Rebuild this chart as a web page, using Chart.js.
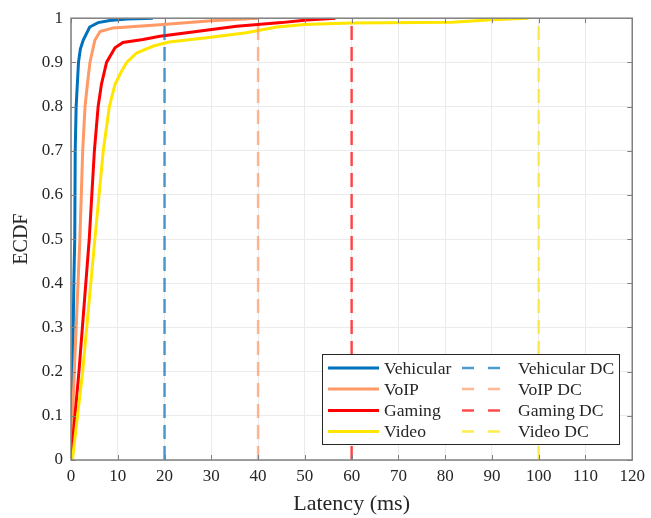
<!DOCTYPE html>
<html><head><meta charset="utf-8">
<script src="https://cdn.jsdelivr.net/npm/chart.js@4.4.1/dist/chart.umd.min.js"></script>
<style>html,body{margin:0;padding:0;background:#fff;}canvas{display:block;}</style>
</head><body>
<canvas id="c" width="651" height="518"></canvas>
<script>
// ---- data ----
const seriesNames = ['Vehicular', 'VoIP', 'Gaming', 'Video'];
const vehicularX = [0, 0.2, 0.35, 0.6, 0.8, 0.9, 1.1, 1.6, 2.0, 2.6, 4.0, 5.8, 8.3, 12, 17.5];
const vehicularY = [0, 0.1, 0.2, 0.4, 0.5, 0.7, 0.8, 0.9, 0.93, 0.95, 0.98, 0.99, 0.995, 0.998, 1];
const voipX = [0, 0.7, 1.3, 1.9, 2.5, 3.0, 3.5, 4.05, 5.1, 6.2, 9, 19, 30, 40];
const voipY = [0, 0.2, 0.35, 0.5, 0.7, 0.8, 0.85, 0.9, 0.95, 0.97, 0.978, 0.985, 0.994, 1];
const gamingX = [0, 1.7, 3.9, 5.0, 5.8, 6.5, 7.6, 9.4, 11.1, 15.4, 19, 26, 35.4, 38, 45, 50.4, 56.5];
const gamingY = [0, 0.2, 0.5, 0.7, 0.8, 0.85, 0.9, 0.933, 0.945, 0.952, 0.959, 0.969, 0.982, 0.984, 0.99, 0.996, 1];
const videoX = [0.3, 2.5, 5.1, 6.9, 8.2, 9.4, 10.8, 11.9, 14, 17.6, 21, 29, 37.5, 44, 50, 59.8, 81.5, 90, 97.8];
const videoY = [0, 0.2, 0.5, 0.7, 0.8, 0.85, 0.88, 0.9, 0.921, 0.937, 0.946, 0.956, 0.967, 0.98, 0.986, 0.989, 0.991, 0.9965, 1];
const dcNames = ['Vehicular DC', 'VoIP DC', 'Gaming DC', 'Video DC'];
const dcLatency = [20, 40, 60, 100];
const xTickLabels = ['0','10','20','30','40','50','60','70','80','90','100','110','120'];
const yTickLabels = ['0','0.1','0.2','0.3','0.4','0.5','0.6','0.7','0.8','0.9','1'];

// ---- styles ----
const solidColors = ['#0072BD', '#FF9966', '#FF0000', '#FFE600'];
const dashColors = ['rgba(0,114,189,0.7)', 'rgba(255,153,102,0.7)', 'rgba(255,0,0,0.7)', 'rgba(255,230,0,0.7)'];
const FONT = "'Liberation Serif', 'Times New Roman', serif";
const TXT = '#262626';

const pts = (xs, ys) => xs.map((x, i) => ({x: x, y: ys[i]}));
const solidXs = [vehicularX, voipX, gamingX, videoX];
const solidYs = [vehicularY, voipY, gamingY, videoY];

const datasets = [];
seriesNames.forEach((n, i) => datasets.push({
  label: n, data: pts(solidXs[i], solidYs[i]), borderColor: solidColors[i],
  borderWidth: 3, pointRadius: 0, showLine: true, fill: false, tension: 0,
  order: 10 - i
}));
dcNames.forEach((n, i) => datasets.push({
  label: n, data: [{x: dcLatency[i], y: 0}, {x: dcLatency[i], y: 1}], borderColor: dashColors[i],
  borderWidth: 2.5, borderDash: [14, 7], pointRadius: 0, showLine: true, fill: false,
  order: 5 - i
}));

const framePlugin = {
  id: 'frame',
  afterDraw(chart) {
    const {ctx, chartArea: a, scales: {x, y}} = chart;
    ctx.save();
    // inward ticks
    ctx.strokeStyle = '#808080';
    ctx.lineWidth = 1;
    ctx.beginPath();
    for (let v = 0; v <= 120; v += 10) {
      const px = Math.round(x.getPixelForValue(v)) + 0.5;
      ctx.moveTo(px, a.bottom); ctx.lineTo(px, a.bottom - 5);
      ctx.moveTo(px, a.top); ctx.lineTo(px, a.top + 5);
    }
    for (let k = 0; k <= 10; k++) {
      const py = Math.round(y.getPixelForValue(k / 10)) + 0.5;
      ctx.moveTo(a.left, py); ctx.lineTo(a.left + 5, py);
      ctx.moveTo(a.right, py); ctx.lineTo(a.right - 5, py);
    }
    ctx.stroke();
    // box
    ctx.lineWidth = 1.5;
    ctx.strokeRect(a.left, a.top, a.right - a.left, a.bottom - a.top);

    // legend
    const L = 322.5, T = 354.5, W = 297, H = 90;
    ctx.fillStyle = '#fff';
    ctx.fillRect(L, T, W, H);
    ctx.strokeStyle = '#262626';
    ctx.lineWidth = 1;
    ctx.strokeRect(L, T, W, H);
    const rows = [368, 389, 410.5, 431.5];
    ctx.font = '17.6px ' + FONT;
    ctx.textBaseline = 'middle';
    ctx.textAlign = 'left';
    rows.forEach((ry, i) => {
      ctx.setLineDash([]);
      ctx.strokeStyle = solidColors[i];
      ctx.lineWidth = 3;
      ctx.beginPath(); ctx.moveTo(328, ry); ctx.lineTo(379, ry); ctx.stroke();
      ctx.fillStyle = TXT;
      ctx.fillText(seriesNames[i], 384, ry + 1);
      ctx.strokeStyle = dashColors[i];
      ctx.lineWidth = 2.5;
      ctx.setLineDash([12, 14]);
      ctx.beginPath(); ctx.moveTo(462, ry); ctx.lineTo(501, ry); ctx.stroke();
      ctx.setLineDash([]);
      ctx.fillText(dcNames[i], 518, ry + 1);
    });
    ctx.restore();
  }
};

Chart.defaults.font.family = FONT;
Chart.defaults.color = TXT;

new Chart(document.getElementById('c'), {
  type: 'scatter',
  data: {datasets},
  options: {
    responsive: false,
    animation: false,
    layout: {padding: {left: 0, top: 17, right: 16, bottom: 0}},
    plugins: {legend: {display: false}, tooltip: {enabled: false}},
    scales: {
      x: {
        type: 'linear', min: 0, max: 120,
        afterFit(s) { s.height = 58; },
        afterBuildTicks(s) { s.ticks = xTickLabels.map(t => ({value: Number(t)})); },
        ticks: {stepSize: 10, font: {size: 17}, color: TXT, padding: 6, maxRotation: 0,
                callback: (v, i) => xTickLabels[i]},
        grid: {color: '#ebebeb', lineWidth: 1, drawTicks: false},
        border: {display: false},
        title: {display: true, text: 'Latency (ms)', font: {size: 22}, color: TXT, padding: {top: 0, bottom: 1}}
      },
      y: {
        type: 'linear', min: 0, max: 1,
        afterFit(s) { s.width = 71; },
        afterBuildTicks(s) { s.ticks = yTickLabels.map(t => ({value: Number(t)})); },
        ticks: {stepSize: 0.1, font: {size: 17}, color: TXT, padding: 8,
                callback: (v, i) => yTickLabels[i]},
        grid: {color: '#ebebeb', lineWidth: 1, drawTicks: false},
        border: {display: false},
        title: {display: true, text: 'ECDF', font: {size: 20}, color: TXT, padding: {top: 10, bottom: 0}}
      }
    }
  },
  plugins: [framePlugin]
});
</script>
</body></html>
